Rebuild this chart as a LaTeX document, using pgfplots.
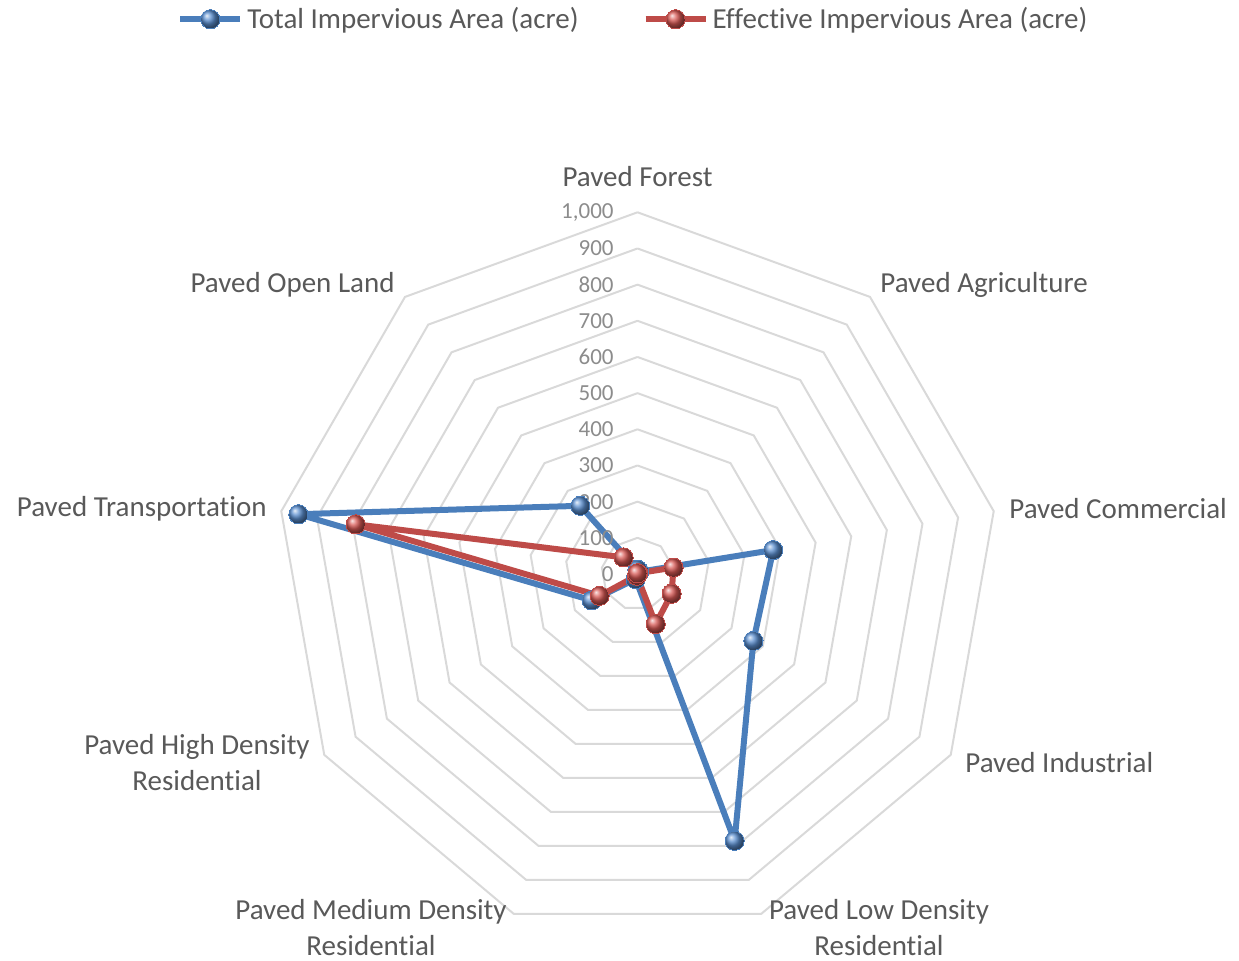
\documentclass[border=0pt]{standalone}
\usepackage{pgfplots}
\pgfplotsset{compat=1.18}
\usepackage{fontspec}
\setmainfont[Ligatures={NoCommon}]{Carlito}
\definecolor{tiablue}{HTML}{4A7EBB}
\definecolor{eiared}{HTML}{BE4B48}
\definecolor{ballblue}{HTML}{5B8FD0}
\definecolor{ballred}{HTML}{D85854}
\definecolor{ringgray}{HTML}{D9D9D9}
\definecolor{labgray}{HTML}{595959}
\definecolor{tickgray}{HTML}{8C8C8C}
\tikzset{
  tl/.style={anchor=east, text=tickgray, font=\fontsize{11.5pt}{13pt}\selectfont, inner sep=0pt},
  cl/.style={text=labgray, font=\fontsize{14.5pt}{18pt}\selectfont, inner sep=0pt, align=center},
}
\begin{document}
\begin{tikzpicture}
\begin{axis}[
  scale only axis, width=619.5pt, height=480.5pt,
  xmin=-1762.5, xmax=1663, ymin=-1070, ymax=1587,
  hide axis, clip=false,
  legend columns=2,
  legend style={at={(rel axis cs:0.512,0.980)}, anchor=center, draw=none, fill=none,
    font=\fontsize{14.5pt}{17pt}\selectfont, text=labgray,
    /tikz/every even column/.append style={column sep=30pt}},
  legend image code/.code={\draw[#1,mark repeat=2,mark phase=2] plot coordinates {(0pt,0pt)(15pt,0pt)(30pt,0pt)};},
]
% grid rings
\pgfplotsinvokeforeach{100,200,300,400,500,600,700,800,900,1000}{
\addplot[data cs=polar, ringgray, line width=1pt, forget plot, mark=none]
  coordinates {(90,#1)(50,#1)(10,#1)(-30,#1)(-70,#1)(-110,#1)(-150,#1)(170,#1)(130,#1)(90,#1)};
}
% Total impervious area
\addplot[data cs=polar, tiablue, line width=3pt, line join=round, mark=ball, mark size=4.8pt,
  mark options={ball color=ballblue, line width=0pt, draw=none}]
  coordinates {(90,12)(50,8)(10,381)(-30,370)(-70,785)(-110,15)(-150,146)(170,952)(130,246)(90,12)};
\addlegendentry{Total Impervious Area (acre)}
% Effective impervious area
\addplot[data cs=polar, eiared, line width=3pt, line join=round, mark=ball, mark size=4.8pt,
  mark options={ball color=ballred, line width=0pt, draw=none}]
  coordinates {(90,2)(50,3)(10,101)(-30,109)(-70,147)(-110,5)(-150,121)(170,791)(130,60)(90,2)};
\addlegendentry{Effective Impervious Area (acre)}
% tick labels
\node[tl] at (axis cs:-65,0) {0};
\node[tl] at (axis cs:-65,100) {100};
\node[tl] at (axis cs:-65,200) {200};
\node[tl] at (axis cs:-65,300) {300};
\node[tl] at (axis cs:-65,400) {400};
\node[tl] at (axis cs:-65,500) {500};
\node[tl] at (axis cs:-65,600) {600};
\node[tl] at (axis cs:-65,700) {700};
\node[tl] at (axis cs:-65,800) {800};
\node[tl] at (axis cs:-65,900) {900};
\node[tl] at (axis cs:-65,1000) {1,000};
% category labels
\node[cl, anchor=center] at (axis cs:0,1097.6) {Paved Forest};
\node[cl, anchor=west] at (axis cs:670.5,799) {Paved Agriculture};
\node[cl, anchor=west] at (axis cs:1027,179.7) {Paved Commercial};
\node[cl, anchor=west] at (axis cs:905.4,-522.5) {Paved Industrial};
\node[cl, anchor=center] at (axis cs:667.7,-978.7) {Paved Low Density\\Residential};
\node[cl, anchor=center] at (axis cs:-736.8,-978.7) {Paved Medium Density\\Residential};
\node[cl, anchor=center] at (axis cs:-1217.9,-522.5) {Paved High Density\\Residential};
\node[cl, anchor=east] at (axis cs:-1024.3,179.7) {Paved Transportation};
\node[cl, anchor=east] at (axis cs:-670.5,799) {Paved Open Land};
\end{axis}
\pgfresetboundingbox
\path[use as bounding box] (current axis.south west) rectangle (current axis.north east);
\end{tikzpicture}
\end{document}
